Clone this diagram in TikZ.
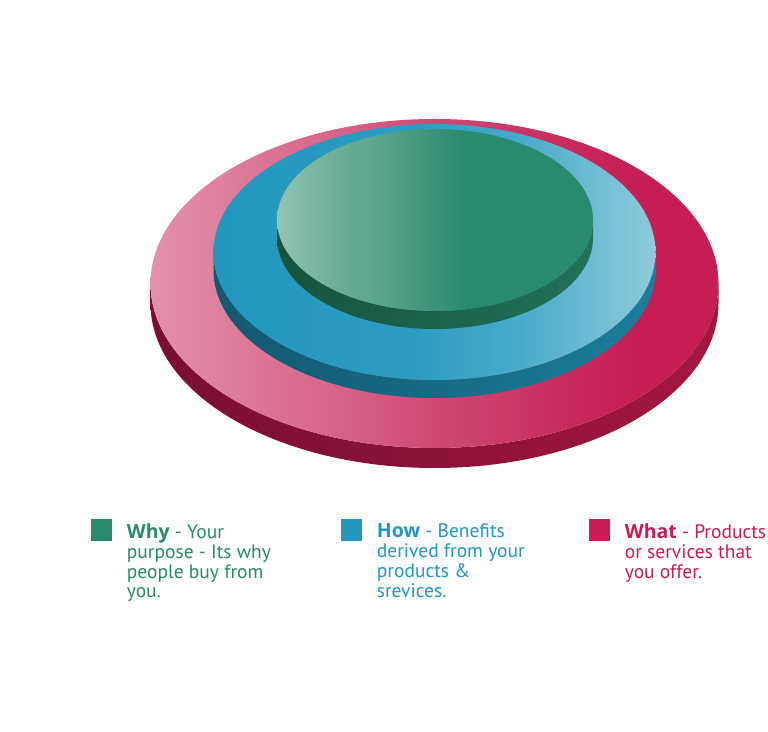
\documentclass[tikz,border=0pt]{standalone}
\usepackage{fontspec}
\setmainfont{PT Sans}
\newfontfamily\legbold{Open Sans}[UprightFont=* Bold]
\definecolor{greenT}{HTML}{2A8A6E}
\definecolor{blueT}{HTML}{2397BE}
\definecolor{pinkT}{HTML}{C51D54}
\definecolor{pink0}{HTML}{E291AB}
\definecolor{pink1}{HTML}{D8678C}
\definecolor{pink2}{HTML}{CF4A74}
\definecolor{pink3}{HTML}{C92E60}
\definecolor{pinks0}{HTML}{7A0E33}
\definecolor{pinks1}{HTML}{8C1238}
\definecolor{pinks2}{HTML}{A3173F}
\definecolor{blue1}{HTML}{2C9CC2}
\definecolor{blue2}{HTML}{4AABCB}
\definecolor{blue3}{HTML}{8ECBDB}
\definecolor{blues0}{HTML}{135870}
\definecolor{blues1}{HTML}{176A85}
\definecolor{blues2}{HTML}{1C7E9C}
\definecolor{green0}{HTML}{92C2B3}
\definecolor{green1}{HTML}{6AAE97}
\definecolor{green2}{HTML}{4E9C83}
\definecolor{greens0}{HTML}{16533E}
\definecolor{greens1}{HTML}{22725A}
\pgfdeclarehorizontalshading{pinkface}{100bp}{color(0bp)=(pink0); color(25bp)=(pink0); color(40bp)=(pink1); color(50bp)=(pink2); color(60bp)=(pink3); color(68bp)=(pinkT); color(100bp)=(pinkT)}
\pgfdeclarehorizontalshading{pinkside}{100bp}{color(0bp)=(pinks0); color(25bp)=(pinks0); color(50bp)=(pinks1); color(75bp)=(pinks2); color(100bp)=(pinks2)}
\pgfdeclarehorizontalshading{blueface}{100bp}{color(0bp)=(blueT); color(25bp)=(blueT); color(48bp)=(blue1); color(60bp)=(blue2); color(75bp)=(blue3); color(100bp)=(blue3)}
\pgfdeclarehorizontalshading{blueside}{100bp}{color(0bp)=(blues0); color(25bp)=(blues0); color(50bp)=(blues1); color(75bp)=(blues2); color(100bp)=(blues2)}
\pgfdeclarehorizontalshading{greenface}{100bp}{color(0bp)=(green0); color(25bp)=(green0); color(35bp)=(green1); color(45bp)=(green2); color(55bp)=(greenT); color(100bp)=(greenT)}
\pgfdeclarehorizontalshading{greenside}{100bp}{color(0bp)=(greens0); color(25bp)=(greens0); color(75bp)=(greens1); color(100bp)=(greens1)}
\newcommand\mydisc[7]{%
  \shade[shading=#6] (#1-#3,#2) -- (#1-#3,#2-#5) arc[start angle=180,end angle=360,x radius=#3,y radius=#4] -- (#1+#3,#2) arc[start angle=0,end angle=-180,x radius=#3,y radius=#4] -- cycle;
  \shade[shading=#7] (#1,#2) ellipse[x radius=#3,y radius=#4];
}
\newcommand\legkey[1]{{\legbold #1}}
\tikzset{
  sq/.style={minimum size=21.5pt, inner sep=0pt, draw=none},
  legtext/.style={anchor=north west, inner sep=0pt, align=left, font=\fontsize{19.5}{19.8}\selectfont}
}
\begin{document}
\begin{tikzpicture}[x=1pt,y=1pt]
\useasboundingbox (0,0) rectangle (768,731);
\fill[white] (0,0) rectangle (768,731);
% discs (pixel coords, y = 731 - py)
\mydisc{434.5}{447.5}{284}{164.5}{20}{pinkside}{pinkface}
\mydisc{434.5}{479}{221}{128}{18}{blueside}{blueface}
\mydisc{435}{511}{158}{91}{18}{greenside}{greenface}
% legend
\node[sq, fill=greenT] (sqwhy) at (101.5,201) {};
\node[sq, fill=blueT] (sqhow) at (351.5,201) {};
\node[sq, fill=pinkT] (sqwhat) at (599.5,201) {};
\node[legtext, text=greenT] (twhy) at (126.7,207.5) {\legkey{Why} - Your\\purpose - Its why\\people buy from\\you.};
\node[legtext, text=blueT] (thow) at (376.7,207.5) {\legkey{How} - Benefits\\derived from your\\products \&\\srevices.};
\node[legtext, text=pinkT] (twhat) at (624.7,207.5) {\legkey{What} - Products\\or services that\\you offer.};
\end{tikzpicture}
\end{document}
